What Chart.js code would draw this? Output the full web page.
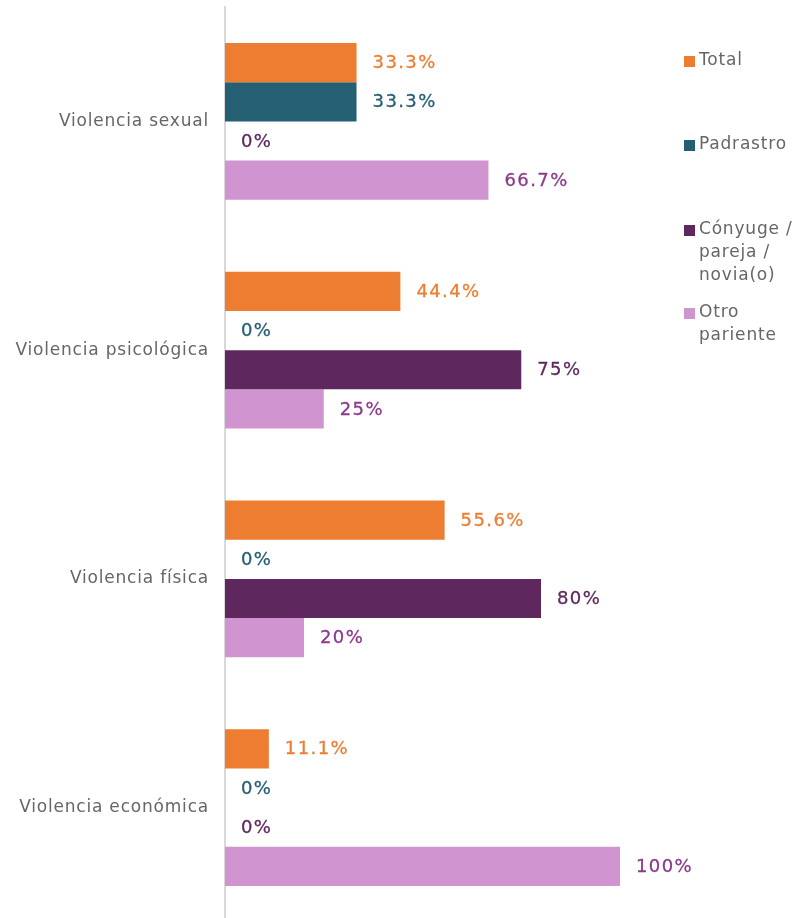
<!DOCTYPE html>
<html>
<head>
<meta charset="utf-8">
<script src="https://cdn.jsdelivr.net/npm/chart.js@4"></script>
<style>
html,body{margin:0;padding:0;background:#fff;overflow:hidden;}
#wrap{width:800px;height:924px;}
</style>
</head>
<body>
<div id="wrap"><canvas id="c" width="800" height="924"></canvas></div>
<script>
const categories = ['Violencia sexual', 'Violencia psicológica', 'Violencia física', 'Violencia económica'];
const seriesNames = ['Total', 'Padrastro', 'Cónyuge / pareja / novia(o)', 'Otro pariente'];
const totalValues = [33.3, 44.4, 55.6, 11.1];
const padrastroValues = [33.3, 0, 0, 0];
const conyugeValues = [0, 75, 80, 0];
const otroValues = [66.7, 25, 20, 100];

const barColors = ['#ED7D31', '#255F73', '#5E285E', '#D094D0'];
const labelColors = ['#ED7D31', '#255F73', '#5E285E', '#8C3A8C'];
const FONT = "'DejaVu Sans', sans-serif";

const valueLabels = {
  id: 'valueLabels',
  afterDatasetsDraw(chart) {
    const ctx = chart.ctx;
    ctx.save();
    ctx.letterSpacing = '1.4px';
    ctx.font = "18px " + FONT;
    ctx.textAlign = 'left';
    ctx.textBaseline = 'middle';
    ctx.lineWidth = 0.3;
    ctx.lineJoin = 'round';
    chart.data.datasets.forEach((ds, i) => {
      const meta = chart.getDatasetMeta(i);
      meta.data.forEach((bar, j) => {
        const txt = ds.data[j] + '%';
        ctx.fillStyle = labelColors[i];
        ctx.strokeStyle = labelColors[i];
        ctx.fillText(txt, bar.x + 16, bar.y + 1);
        ctx.strokeText(txt, bar.x + 16, bar.y + 1);
      });
    });
    ctx.restore();
  }
};

const sideLegend = {
  id: 'sideLegend',
  afterDraw(chart) {
    const ctx = chart.ctx;
    const ys = [61, 145, 230, 313];
    const x0 = 684, tx = 699, lh = 23;
    ctx.save();
    ctx.letterSpacing = '0.8px';
    ctx.font = "17px " + FONT;
    ctx.textAlign = 'left';
    ctx.textBaseline = 'middle';
    chart.data.datasets.forEach((ds, i) => {
      const words = ds.label.split(' ');
      const lines = [];
      let cur = '';
      words.forEach(w => {
        const t = cur ? cur + ' ' + w : w;
        if (cur && ctx.measureText(t).width > chart.width - tx - 2) { lines.push(cur); cur = w; }
        else cur = t;
      });
      if (cur) lines.push(cur);
      ctx.fillStyle = ds.backgroundColor;
      ctx.fillRect(x0, ys[i] - 5, 11, 11);
      ctx.fillStyle = '#666666';
      lines.forEach((ln, k) => ctx.fillText(ln, tx, ys[i] + k * lh));
    });
    ctx.restore();
  }
};

const spacing = {
  id: 'spacing',
  beforeDraw(chart) { chart.ctx.letterSpacing = '0.8px'; }
};

const valueSets = [totalValues, padrastroValues, conyugeValues, otroValues];

new Chart(document.getElementById('c'), {
  type: 'bar',
  data: {
    labels: categories,
    datasets: seriesNames.map((n, i) => ({
      label: n,
      data: valueSets[i],
      backgroundColor: barColors[i],
      borderWidth: 0,
      categoryPercentage: 0.686,
      barPercentage: 1.0
    }))
  },
  options: {
    indexAxis: 'y',
    responsive: false,
    animation: false,
    devicePixelRatio: 1,
    layout: { padding: { left: 0, right: 180, top: 7, bottom: 2 } },
    plugins: { legend: { display: false }, tooltip: { enabled: false } },
    scales: {
      x: { display: false, min: 0, max: 100 },
      y: {
        afterFit(scale) { scale.width = 225; scale.paddingTop = 0; scale.paddingBottom = 0; },
        grid: { display: false, drawTicks: false },
        border: { display: true, color: '#D9D9D9', width: 2 },
        ticks: { color: '#666666', font: { family: FONT, size: 17 }, padding: 16 }
      }
    }
  },
  plugins: [spacing, valueLabels, sideLegend]
});
</script>
</body>
</html>
